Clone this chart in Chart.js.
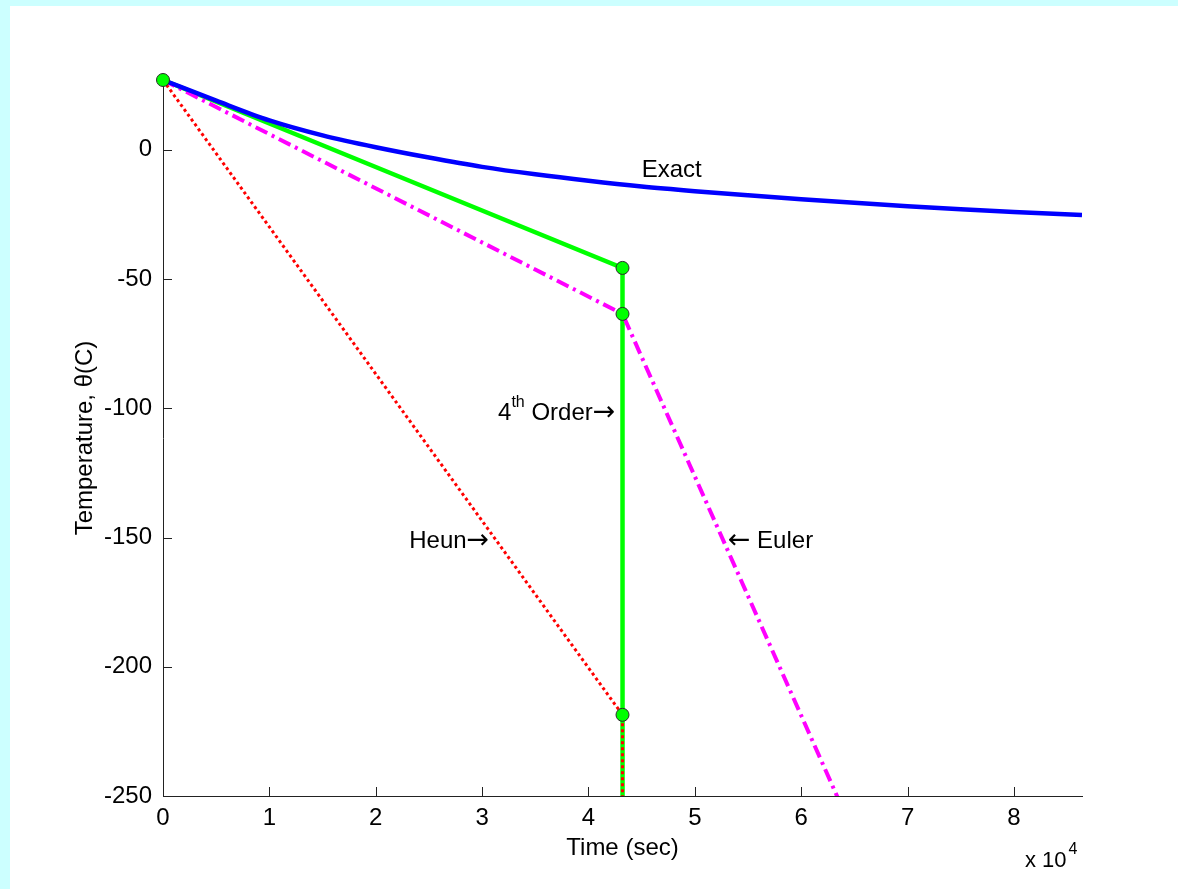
<!DOCTYPE html>
<html>
<head>
<meta charset="utf-8">
<script src="https://cdn.jsdelivr.net/npm/chart.js@4.4.1/dist/chart.umd.min.js"></script>
<style>
  html, body { margin:0; padding:0; background:#ccffff; overflow:hidden; }
  #panel { position:absolute; left:10px; top:6px; width:1168px; height:883px; background:#fff; }
</style>
</head>
<body>
<div id="panel"><canvas id="ch_temp" width="1168" height="883"></canvas></div>
<script>
// valores
const timeExact = [0, 5000, 10000, 15000, 20000, 25000, 30000, 35000, 40000, 45000, 50000, 55000, 60000, 65000, 70000, 75000, 80000, 86400];
const tempExact = [27, 19.0, 11.4, 5.6, 1.0, -3.0, -6.6, -9.5, -12.0, -14.2, -16.0, -17.6, -19.1, -20.5, -21.8, -23.0, -24.1, -25.2];

const timeStep  = [0, 43200, 86400];
const tempEuler = [27, -63.5, -463];
const tempHeun  = [27, -218.6, -2.0e6];
const tempRK4   = [27, -45.7, -2.0e6];

const markerTime = [0, 43200, 43200, 43200];
const markerTemp = [27, -45.7, -63.5, -218.6];

const xTicks = [0, 10000, 20000, 30000, 40000, 50000, 60000, 70000, 80000];
const yTicks = [-250, -200, -150, -100, -50, 0];

const notes = [
  { pre:'Exact', sup:'', post:'', arrowR:false, arrowL:false, t:45000, v:-8.1 },
  { pre:'4', sup:'th', post:' Order', arrowR:true, arrowL:false, t:31500, v:-101.8 },
  { pre:'Heun', sup:'', post:'', arrowR:true, arrowL:false, t:23150, v:-151.3 },
  { pre:' Euler', sup:'', post:'', arrowR:false, arrowL:true, t:53100, v:-151.3 }
];

const FONT = '"Liberation Sans", Arial, Helvetica, sans-serif';
const ARROW_FONT = '27px "DejaVu Sans", sans-serif';
const pts = (xs, ys) => xs.map((x, i) => ({ x, y: ys[i] }));
const lineClip = { left:4, top:4, right:0, bottom:0 };

// escala lineal sin el recorte a int16, para que los saltos grandes queden verticales
class FreeLinear extends Chart.LinearScale {
  static id = 'freeLinear';
  static defaults = Chart.LinearScale.defaults;
  getPixelForDecimal(d){
    if (this._reversePixels) d = 1 - d;
    return this._startPixel + d * this._length;
  }
}
Chart.register(FreeLinear);

const extras = {
  id: 'extras',
  afterDraw(chart){
    const { ctx, chartArea:a, scales:{ x, y } } = chart;
    ctx.save();
    // ticks hacia adentro
    ctx.strokeStyle = '#222'; ctx.lineWidth = 1;
    ctx.beginPath();
    xTicks.forEach(v => { const px = Math.round(x.getPixelForValue(v)) + 0.5; ctx.moveTo(px, a.bottom); ctx.lineTo(px, a.bottom - 9); });
    yTicks.forEach(v => { const py = Math.round(y.getPixelForValue(v)) + 0.5; ctx.moveTo(a.left, py); ctx.lineTo(a.left + 9, py); });
    ctx.stroke();

    ctx.fillStyle = '#000';
    ctx.textBaseline = 'middle';
    ctx.textAlign = 'left';
    // notas sobre el grafico
    notes.forEach(n => {
      let px = x.getPixelForValue(n.t);
      const py = y.getPixelForValue(n.v);
      if (n.arrowL){
        ctx.font = ARROW_FONT;
        ctx.fillText('\u2190', px, py);
        px += ctx.measureText('\u2190').width;
      }
      ctx.font = '24px ' + FONT;
      ctx.fillText(n.pre, px, py);
      px += ctx.measureText(n.pre).width;
      if (n.sup){
        ctx.font = '16px ' + FONT;
        ctx.fillText(n.sup, px, py - 10);
        px += ctx.measureText(n.sup).width;
      }
      if (n.post){
        ctx.font = '24px ' + FONT;
        ctx.fillText(n.post, px, py);
        px += ctx.measureText(n.post).width;
      }
      if (n.arrowR){
        ctx.font = ARROW_FONT;
        ctx.fillText('\u2192', px, py);
      }
    });

    // titulos de ejes
    ctx.font = '24px ' + FONT;
    ctx.textAlign = 'center';
    ctx.fillText('Time (sec)', (a.left + a.right) / 2, 842);
    ctx.save();
    ctx.translate(75, (a.top + a.bottom) / 2);
    ctx.rotate(-Math.PI / 2);
    ctx.fillText('Temperature, \u03b8(C)', 0, 0);
    ctx.restore();

    // multiplicador x 10^4
    ctx.textAlign = 'left';
    ctx.textBaseline = 'alphabetic';
    ctx.font = '22px ' + FONT;
    ctx.fillText('x 10', 1015, 861);
    const w = ctx.measureText('x 10').width;
    ctx.font = '16px ' + FONT;
    ctx.fillText('4', 1015 + w + 2, 848);
    ctx.restore();
  }
};

new Chart(document.getElementById('ch_temp'), {
  type: 'line',
  data: {
    datasets: [
      { data: pts(markerTime, markerTemp), showLine:false, pointRadius:6.5, pointHoverRadius:6.5,
        pointBackgroundColor:'#00ff00', pointBorderColor:'#2a2a2a', pointBorderWidth:1, clip:false },
      { data: pts(timeExact, tempExact), borderColor:'#0000ff', borderWidth:4.5, pointRadius:0, cubicInterpolationMode:'monotone', clip:lineClip },
      { data: pts(timeStep, tempHeun), borderColor:'#ff0000', borderWidth:3, borderDash:[3,3], pointRadius:0, clip:lineClip },
      { data: pts(timeStep, tempEuler), borderColor:'#ff00ff', borderWidth:4, borderDash:[13,5,3,5], pointRadius:0, clip:lineClip },
      { data: pts(timeStep, tempRK4), borderColor:'#00ff00', borderWidth:4.5, pointRadius:0, clip:lineClip }
    ]
  },
  options: {
    responsive:false, animation:false, events:[],
    layout:{ padding:{ left:0, right:96, top:74, bottom:0 } },
    plugins:{ legend:{ display:false }, tooltip:{ enabled:false } },
    scales:{
      x:{
        type:'linear', min:0, max:86400,
        afterBuildTicks:(s)=>{ s.ticks = xTicks.map(v=>({ value:v })); },
        afterFit:(s)=>{ s.height = 93; },
        grid:{ display:false, drawTicks:false },
        border:{ display:true, color:'#222', width:1 },
        ticks:{ padding:8, color:'#000', font:{ family:FONT, size:24 }, maxRotation:0, callback:(v)=> String(v / 10000) }
      },
      y:{
        type:'freeLinear', min:-250, max:27,
        afterBuildTicks:(s)=>{ s.ticks = yTicks.map(v=>({ value:v })); },
        afterFit:(s)=>{ s.width = 153; },
        grid:{ display:false, drawTicks:false },
        border:{ display:true, color:'#222', width:1 },
        ticks:{ padding:11, color:'#000', font:{ family:FONT, size:24 }, callback:(v)=> String(v) }
      }
    }
  },
  plugins:[extras]
});
</script>
</body>
</html>
